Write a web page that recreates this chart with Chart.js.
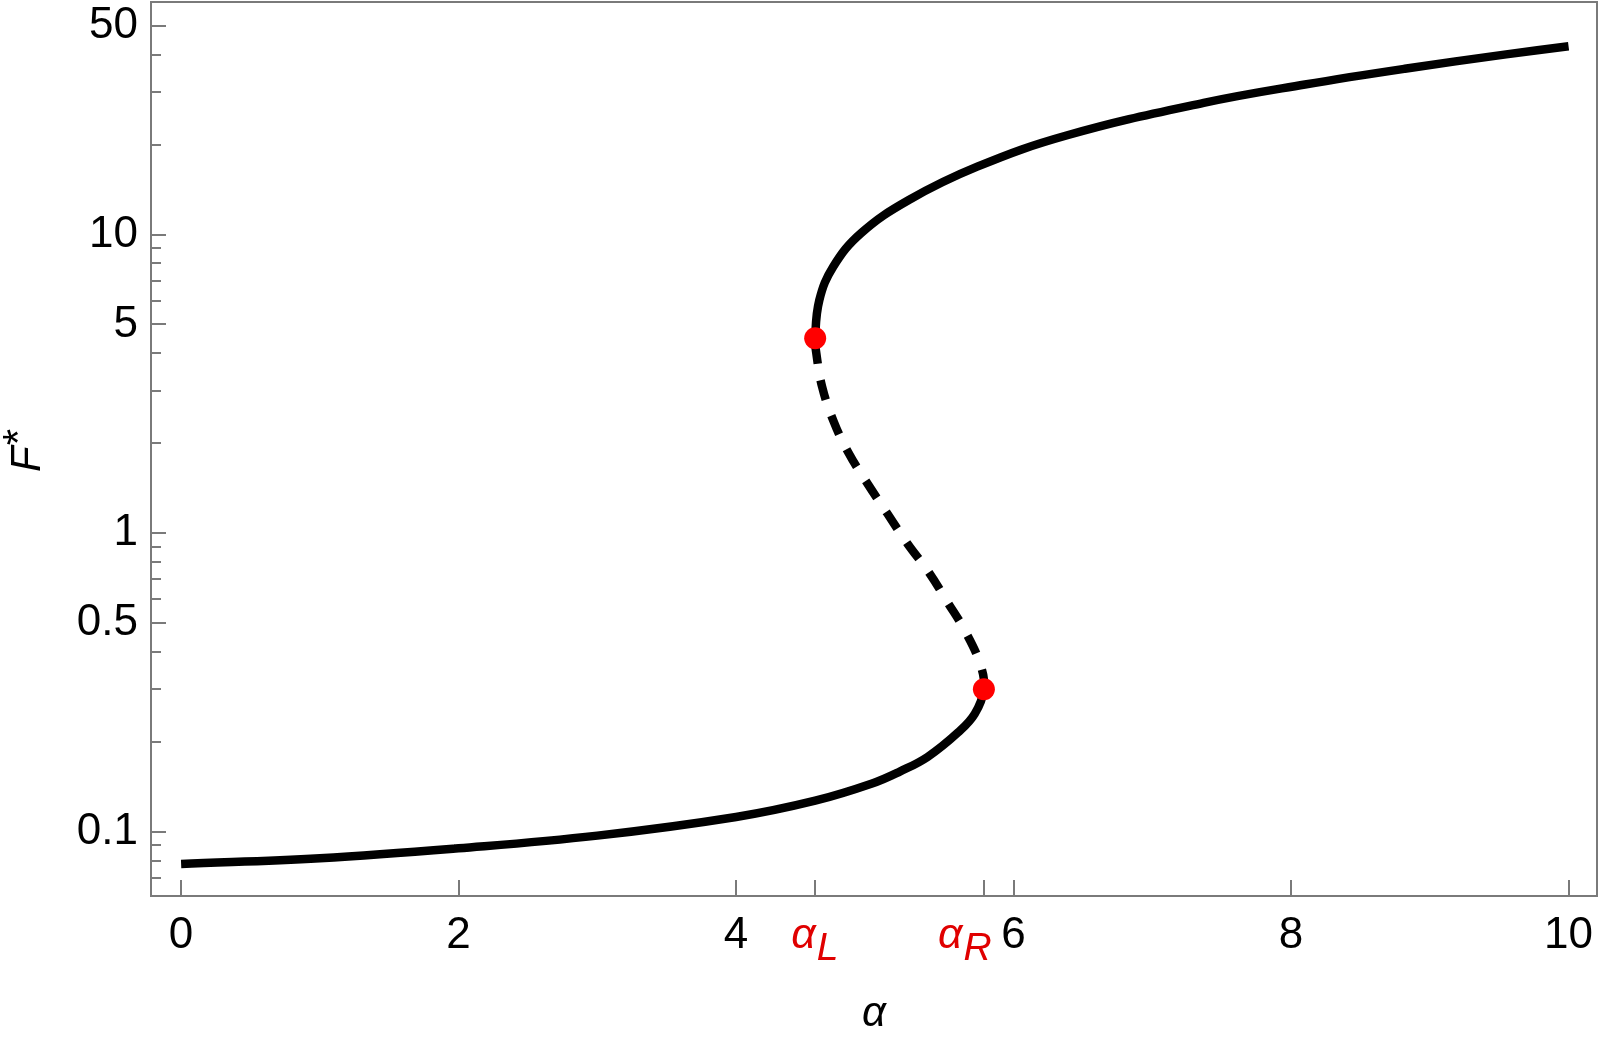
<!DOCTYPE html>
<html>
<head>
<meta charset="utf-8">
<script src="https://cdn.jsdelivr.net/npm/chart.js@4.4.1/dist/chart.umd.min.js"></script>
<style>
  html, body { margin: 0; padding: 0; background: #fff; }
  #wrap { width: 1600px; height: 1044px; position: relative; }
</style>
</head>
<body>
<div id="wrap"><canvas id="chart"></canvas></div>
<script>
// stable lower branch, alpha -> F*, up to the right fold
const lowAlpha = [0, 1, 2, 3, 4, 4.57, 4.98, 5.18, 5.38, 5.6, 5.72];
const lowF = [0.078, 0.0815, 0.088, 0.097, 0.112, 0.127, 0.145, 0.159, 0.178, 0.215, 0.248];
// unstable middle branch (dashed), right fold back to left fold
const midAlpha = [5.762, 5.654, 5.522, 5.389, 5.233, 5.089, 4.945, 4.812, 4.704, 4.62, 4.578];
const midF = [0.361, 0.467, 0.589, 0.739, 0.925, 1.165, 1.47, 1.85, 2.36, 3.09, 4.01];
// stable upper branch, left fold to alpha = 10
const highAlpha = [4.60, 4.70, 4.90, 5.245, 5.738, 6.387, 7.37, 8.1, 8.82, 9.55, 10];
const highF = [6.03, 7.8, 10.1, 13.05, 16.87, 21.5, 27.6, 31.8, 35.9, 40.1, 42.7];
// fold points alpha_L, alpha_R
const foldAlpha = [4.57, 5.786];
const foldF = [4.49, 0.30];
const foldNames = ['L', 'R'];

const xTicks = [0, 2, 4, foldAlpha[0], foldAlpha[1], 6, 8, 10];
const xTickLabels = ['0', '2', '4', '', '', '6', '8', '10'];
const yTicks = [0.07, 0.08, 0.09, 0.1, 0.2, 0.3, 0.4, 0.5, 0.6, 0.7, 0.8, 0.9,
  1, 2, 3, 4, 5, 6, 7, 8, 9, 10, 20, 30, 40, 50];
const yMajor = [0.1, 0.5, 1, 5, 10, 50];

const FONT = 'Liberation Sans, Arial, sans-serif';
const AXIS = '#7a7a7a';

const pts = (a, f) => a.map((v, i) => ({ x: v, y: f[i] }));
const curve = [].concat(
  pts(lowAlpha, lowF),
  [{ x: foldAlpha[1], y: foldF[1] }],
  pts(midAlpha, midF),
  [{ x: foldAlpha[0], y: foldF[0] }],
  pts(highAlpha, highF)
);
const iR = lowAlpha.length;
const iL = iR + midAlpha.length + 1;

// frame with inward ticks, like the original plot
const framePlugin = {
  id: 'frame',
  beforeDatasetsDraw(chart) {
    const { ctx, chartArea: a, scales } = chart;
    ctx.save();
    ctx.strokeStyle = AXIS;
    ctx.lineWidth = 2;
    ctx.strokeRect(a.left, a.top, a.right - a.left, a.bottom - a.top);
    ctx.beginPath();
    yTicks.forEach(v => {
      const y = Math.round(scales.y.getPixelForValue(v));
      const len = yMajor.includes(v) ? 15 : 10;
      ctx.moveTo(a.left, y);
      ctx.lineTo(a.left + len, y);
    });
    xTicks.forEach(v => {
      const x = Math.round(scales.x.getPixelForValue(v));
      ctx.moveTo(x, a.bottom);
      ctx.lineTo(x, a.bottom - 16);
    });
    ctx.stroke();
    ctx.restore();
  },
  afterDraw(chart) {
    const { ctx, scales } = chart;
    ctx.save();
    ctx.textBaseline = 'alphabetic';
    ctx.textAlign = 'left';
    // red alpha_L / alpha_R tick labels
    ctx.fillStyle = '#e00000';
    const shift = [-24, -46];
    foldAlpha.forEach((v, i) => {
      const x = scales.x.getPixelForValue(v) + shift[i];
      ctx.font = 'italic 43px ' + FONT;
      ctx.fillText('α', x, 948);
      const w = ctx.measureText('α').width;
      ctx.font = 'italic 39px ' + FONT;
      ctx.fillText(foldNames[i], x + w + 1, 960);
    });
    // y title F*
    ctx.fillStyle = '#000';
    ctx.translate(40, 450);
    ctx.rotate(-Math.PI / 2);
    ctx.font = 'italic 42px ' + FONT;
    ctx.fillText('F', -22, 0);
    const wf = ctx.measureText('F').width;
    ctx.font = '42px ' + FONT;
    ctx.fillText('*', -22 + wf + 1, -8);
    ctx.restore();
  }
};

new Chart(document.getElementById('chart'), {
  type: 'scatter',
  data: {
    datasets: [
      {
        label: 'folds',
        data: pts(foldAlpha, foldF),
        pointRadius: 11,
        pointHoverRadius: 11,
        pointBackgroundColor: 'red',
        pointBorderWidth: 0,
        showLine: false,
        order: 0
      },
      {
        label: 'F*',
        data: curve,
        showLine: true,
        borderColor: '#000',
        borderWidth: 8.5,
        borderCapStyle: 'butt',
        borderJoinStyle: 'round',
        tension: 0.4,
        pointRadius: 0,
        segment: {
          borderDash: c => (c.p0DataIndex >= iR && c.p1DataIndex <= iL) ? [20, 17] : undefined
        },
        order: 1
      }
    ]
  },
  options: {
    responsive: true,
    maintainAspectRatio: false,
    animation: false,
    layout: { autoPadding: false, padding: { top: 2, right: 3, left: 0, bottom: 0 } },
    plugins: { legend: { display: false }, tooltip: { enabled: false } },
    scales: {
      x: {
        type: 'linear',
        min: -0.217,
        max: 10.205,
        afterBuildTicks: s => { s.ticks = xTicks.map(v => ({ value: v })); },
        afterFit: s => { s.height = 148; s.paddingLeft = 0; s.paddingRight = 0; },
        grid: { display: false, drawTicks: false },
        border: { display: false },
        ticks: {
          autoSkip: false,
          maxRotation: 0,
          padding: 13,
          color: '#000',
          font: { family: FONT, size: 44 },
          callback: (v, i) => xTickLabels[i]
        },
        title: {
          display: true,
          text: 'α',
          color: '#000',
          font: { family: FONT, size: 42, style: 'italic' },
          padding: { top: 0, bottom: 4 }
        }
      },
      y: {
        type: 'logarithmic',
        min: 0.0609,
        max: 60.07,
        afterBuildTicks: s => { s.ticks = yTicks.map(v => ({ value: v })); },
        afterFit: s => { s.width = 151; s.paddingTop = 0; s.paddingBottom = 0; },
        grid: { display: false, drawTicks: false },
        border: { display: false },
        ticks: {
          autoSkip: false,
          padding: 13,
          color: '#000',
          font: { family: FONT, size: 44 },
          callback: v => yMajor.includes(v) ? String(v) : ''
        }
      }
    }
  },
  plugins: [framePlugin]
});
</script>
</body>
</html>
